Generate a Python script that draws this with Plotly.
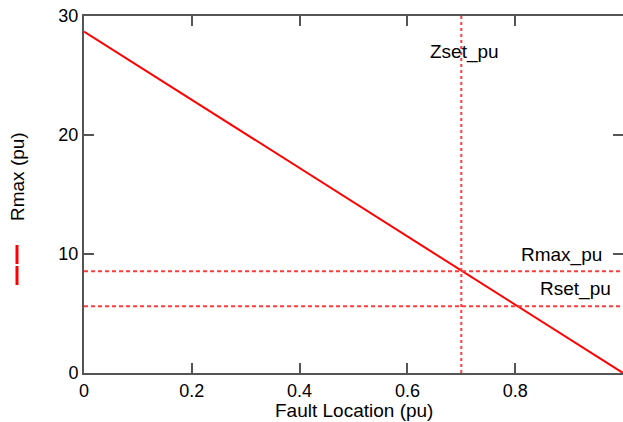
import plotly.graph_objects as go

# Data
fault_loc = [0.0, 1.0]
rmax_curve = [28.7, 0.0]
zset_pu = 0.7
rmax_pu = 8.55
rset_pu = 5.6
x_ticks = [0, 0.2, 0.4, 0.6, 0.8]
x_tick_text = ["0", "0.2", "0.4", "0.6", "0.8"]
y_ticks = [0, 10, 20, 30]
y_tick_text = ["0", "10", "20", "30"]

RED = "rgb(255,0,0)"
DRED = "rgb(255,60,60)"
AX = "#555555"
FONT = "Liberation Sans, Arial, sans-serif"

fig = go.Figure()
fig.add_trace(go.Scatter(x=fault_loc, y=rmax_curve, mode="lines",
                         line=dict(color=RED, width=2), showlegend=False))
fig.add_trace(go.Scatter(x=[zset_pu, zset_pu], y=[0, 30], mode="lines",
                         line=dict(color=DRED, width=2, dash="3px,3px"), showlegend=False))
fig.add_trace(go.Scatter(x=[0, 1], y=[rmax_pu, rmax_pu], mode="lines",
                         line=dict(color=DRED, width=2, dash="4px,3px"), showlegend=False))
fig.add_trace(go.Scatter(x=[0, 1], y=[rset_pu, rset_pu], mode="lines",
                         line=dict(color=DRED, width=2, dash="4px,3px"), showlegend=False))
# invisible trace to activate the right-hand tick axis
fig.add_trace(go.Scatter(x=[0], y=[0], yaxis="y2", mode="markers",
                         marker=dict(opacity=0), showlegend=False, hoverinfo="skip"))

fig.update_layout(
    width=623, height=422,
    margin=dict(l=84, r=0, t=16, b=49),
    paper_bgcolor="white", plot_bgcolor="white",
    font=dict(family=FONT, size=18, color="black"),
    xaxis=dict(range=[0, 1], tickvals=x_ticks, ticktext=x_tick_text,
               showgrid=False, zeroline=False, showline=True, linecolor=AX, linewidth=2,
               ticks="inside", ticklen=10, tickwidth=2, tickcolor=AX, mirror="ticks",
               tickfont=dict(size=18)),
    yaxis=dict(range=[0, 30], tickvals=y_ticks, ticktext=y_tick_text,
               showgrid=False, zeroline=False, showline=True, linecolor=AX, linewidth=2,
               ticks="inside", ticklen=10, tickwidth=2, tickcolor=AX, mirror=False,
               tickfont=dict(size=18)),
    yaxis2=dict(range=[0, 30], tickvals=y_ticks, overlaying="y", side="right",
                showticklabels=False, showgrid=False, zeroline=False, showline=False,
                ticks="inside", ticklen=10, tickwidth=2, tickcolor=AX),
    showlegend=False,
)

fig.add_annotation(text="Fault Location (pu)", xref="paper", yref="paper",
                   x=0.5, y=-(410 - 373) / 357, showarrow=False,
                   font=dict(size=19), xanchor="center", yanchor="middle")
fig.add_annotation(text="Rmax (pu)", xref="paper", yref="paper",
                   x=(18 - 84) / 539, y=(373 - 177) / 357, showarrow=False,
                   textangle=-90, font=dict(size=19), xanchor="center", yanchor="middle")
fig.add_annotation(text="Zset_pu", x=0.705, y=27.0, showarrow=False,
                   font=dict(size=19), xanchor="center", yanchor="middle")
fig.add_annotation(text="Rmax_pu", x=(561 - 84) / 539, y=(373 - 255) / 11.9, showarrow=False,
                   font=dict(size=19), xanchor="center", yanchor="middle")
fig.add_annotation(text="Rset_pu", x=(575 - 84) / 539, y=(373 - 289) / 11.9, showarrow=False,
                   font=dict(size=19), xanchor="center", yanchor="middle")

# legend sample line (vertical red stroke left of the y title)
for y0, y1 in [(245, 264), (266, 285)]:
    fig.add_shape(type="line", xref="paper", yref="paper",
                  x0=(17 - 84) / 539, x1=(17 - 84) / 539,
                  y0=(373 - y0) / 357, y1=(373 - y1) / 357,
                  line=dict(color=RED, width=3))

fig.write_html("out.html")
